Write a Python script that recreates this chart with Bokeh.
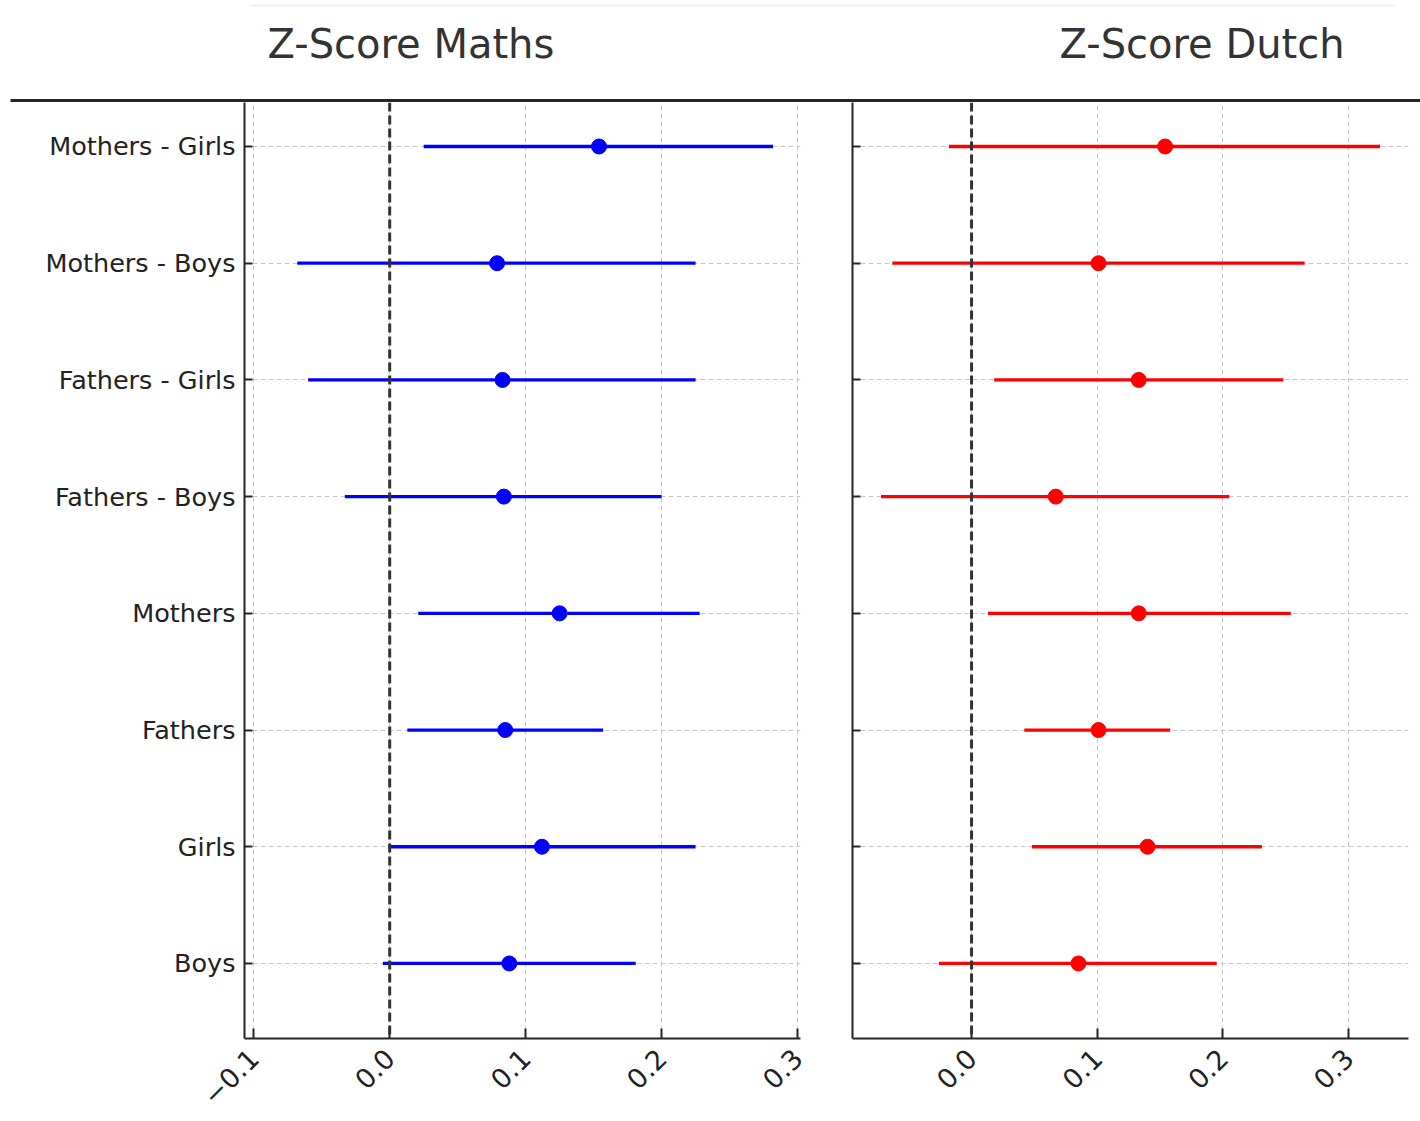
import math
from bokeh.plotting import figure
from bokeh.layouts import column, row
from bokeh.models import Range1d, FixedTicker, CustomJSTickFormatter, Span
from bokeh.core.properties import value
from bokeh.embed import file_html
from bokeh.resources import INLINE

# ---------------- data ----------------
categories = ["Mothers - Girls", "Mothers - Boys", "Fathers - Girls", "Fathers - Boys",
              "Mothers", "Fathers", "Girls", "Boys"]

maths_est = [0.154, 0.079, 0.083, 0.084, 0.125, 0.085, 0.112, 0.088]
maths_low = [0.025, -0.068, -0.060, -0.033, 0.021, 0.013, -0.001, -0.005]
maths_high = [0.282, 0.225, 0.225, 0.200, 0.228, 0.157, 0.225, 0.181]

dutch_est = [0.154, 0.101, 0.133, 0.067, 0.133, 0.101, 0.140, 0.085]
dutch_low = [-0.018, -0.063, 0.018, -0.072, 0.013, 0.042, 0.048, -0.026]
dutch_high = [0.325, 0.265, 0.248, 0.205, 0.254, 0.158, 0.231, 0.195]

maths_ticks = [-0.1, 0.0, 0.1, 0.2, 0.3]
dutch_ticks = [0.0, 0.1, 0.2, 0.3]

titles = ["Z-Score Maths", "Z-Score Dutch"]

FONT = "DejaVu Sans"
AX = "#262626"
GRID = "#c8c8c8"

n = len(categories)
ypos = [n - 1 - i for i in range(n)]

fmt = CustomJSTickFormatter(code="""
    const s = Math.abs(tick).toFixed(1);
    return tick < -1e-9 ? "\u2212" + s : s;
""")

# ---------------- header with titles ----------------
header = figure(width=1420, height=102, x_range=Range1d(0, 1420), y_range=Range1d(102, 0),
                output_backend="svg", toolbar_location=None,
                min_border_left=0, min_border_right=0, min_border_top=0, min_border_bottom=0)
header.axis.visible = False
header.grid.visible = False
header.outline_line_color = None
header.segment(x0=[250], y0=[5], x1=[1395], y1=[5], line_color="#efefef", line_width=2)
header.segment(x0=[10], y0=[100], x1=[1420], y1=[100], line_color=AX, line_width=3)
header.text(x=[267, 1059], y=[43, 43], text=titles, text_font=value(FONT),
            text_font_size="40px", text_color="#333333", text_baseline="alphabetic",
            text_align="left")


def make_panel(est, low, high, color, xr, ticks, show_labels, width, mbl, mbr):
    p = figure(width=width, height=1018, x_range=xr, y_range=Range1d(-0.643, n - 1 + 0.377),
               output_backend="svg", toolbar_location=None,
               min_border_left=mbl, min_border_right=mbr, min_border_top=0, min_border_bottom=82)
    p.outline_line_color = None
    p.background_fill_color = "white"

    # axes
    p.xaxis.ticker = FixedTicker(ticks=ticks)
    p.xaxis.formatter = fmt
    p.xaxis.major_label_orientation = math.pi / 4
    p.yaxis.ticker = FixedTicker(ticks=ypos)
    if show_labels:
        p.yaxis.major_label_overrides = {ypos[i]: categories[i] for i in range(n)}
    else:
        p.yaxis.major_label_overrides = {ypos[i]: "" for i in range(n)}
    for ax in (p.xaxis, p.yaxis):
        ax.axis_line_color = AX
        ax.axis_line_width = 2
        ax.major_tick_line_color = AX
        ax.major_tick_line_width = 2
        ax.major_tick_out = 0
        ax.minor_tick_line_color = None
        ax.major_label_text_font = FONT
        ax.major_label_text_font_size = "25.5px"
        ax.major_label_text_color = "#222222"
    p.xaxis.major_label_text_font_size = "27px"
    p.xaxis.major_tick_in = 10
    p.yaxis.major_tick_in = 8
    p.yaxis.major_label_standoff = 9
    p.xaxis.major_label_standoff = 15
    p.xaxis.major_label_text_align = "center"

    # grid
    p.xgrid.ticker = FixedTicker(ticks=ticks)
    p.ygrid.ticker = FixedTicker(ticks=ypos)
    for g in (p.xgrid, p.ygrid):
        g.grid_line_color = GRID
        g.grid_line_dash = "5 3"
        g.grid_line_width = 1

    # zero line
    p.add_layout(Span(location=0, dimension="height", line_color="#333333",
                      line_width=3, line_dash="9 4"))

    # error bars and estimates
    p.segment(x0=low, y0=ypos, x1=high, y1=ypos, line_color=color, line_width=3.3)
    p.scatter(x=est, y=ypos, size=15, fill_color=color, line_color=color)
    return p


p1 = make_panel(maths_est, maths_low, maths_high, "#0000ff",
                Range1d(-0.1068, 0.3022), maths_ticks, True, 820, 244, 20)
p2 = make_panel(dutch_est, dutch_low, dutch_high, "#ff0000",
                Range1d(-0.0947, 0.3476), dutch_ticks, False, 600, 32, 12)

layout = column(header, row(p1, p2, spacing=0), spacing=0)

open("out.html", "w").write(file_html(layout, INLINE))
